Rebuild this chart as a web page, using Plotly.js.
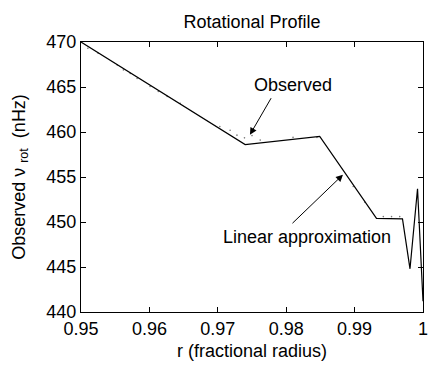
<!DOCTYPE html>
<html>
<head>
<meta charset="utf-8">
<script src="https://cdn.plot.ly/plotly-3.0.1.min.js"></script>
<style>
  html, body { margin: 0; padding: 0; background: #fff; }
  #chart { width: 436px; height: 365px; }
</style>
</head>
<body>
<div id="chart"></div>
<script>
// linear approximation of the rotation profile
const fitR = [0.95, 0.9740, 0.9849, 0.9932, 0.9970, 0.9981, 0.9992, 1.0];
const fitV = [470.0, 458.6, 459.5, 450.4, 450.35, 444.8, 453.7, 441.2];

// observed values (small dots along the line)
const obsR = [0.9510, 0.9525, 0.9553, 0.9562, 0.9572, 0.9582, 0.9601, 0.9613, 0.9626, 0.9645,
              0.9703, 0.9718, 0.9728, 0.9739, 0.9750, 0.9762, 0.9810, 0.9845,
              0.9898, 0.9915, 0.9942, 0.9954, 0.9966];
const obsV = [469.3, 468.75, 467.45, 466.9, 466.5, 465.95, 465.05, 464.5, 463.95, 463.2,
              460.6, 460.2, 459.65, 459.35, 459.6, 459.1, 459.4, 459.4,
              453.95, 452.2, 450.6, 450.6, 450.6];

const xTicks = [0.95, 0.96, 0.97, 0.98, 0.99, 1];
const xTickText = ['0.95', '0.96', '0.97', '0.98', '0.99', '1'];
const yTicks = [440, 445, 450, 455, 460, 465, 470];

const font = 'Liberation Sans, Arial, Helvetica, sans-serif';

const observed = {
    x: obsR,
    y: obsV,
    type: 'scatter',
    mode: 'markers',
    name: 'Observed',
    marker: {size: 1.6, color: '#777777'},
    hoverinfo: 'skip'
};

const linear = {
    x: fitR,
    y: fitV,
    type: 'scatter',
    mode: 'lines',
    name: 'Linear approximation',
    line: {color: '#000000', width: 1.2}
};

const axisCommon = {
    showline: true,
    linecolor: '#000',
    linewidth: 1,
    mirror: 'ticks',
    ticks: 'inside',
    ticklen: 5,
    tickcolor: '#000',
    tickwidth: 1,
    showgrid: false,
    zeroline: false,
    tickfont: {family: font, size: 18, color: '#000'}
};

const layout = {
    width: 436,
    height: 365,
    margin: {l: 81, r: 13, t: 42, b: 53},
    paper_bgcolor: '#fff',
    plot_bgcolor: '#fff',
    showlegend: false,
    title: {
        text: 'Rotational Profile',
        font: {family: font, size: 18, color: '#000'},
        x: 0.578,
        xanchor: 'center',
        y: 0.94,
        yanchor: 'middle'
    },
    xaxis: Object.assign({}, axisCommon, {
        range: [0.95, 1],
        tickvals: xTicks,
        ticktext: xTickText,
        title: {text: 'r (fractional radius)', font: {family: font, size: 18, color: '#000'}, standoff: 6}
    }),
    yaxis: Object.assign({}, axisCommon, {
        range: [440, 470],
        tickvals: yTicks,
        title: {text: 'Observed ν <sub>rot</sub>  (nHz)', font: {family: font, size: 18, color: '#000'}, standoff: 16}
    }),
    annotations: [
        {
            x: 0.9747, y: 459.7, xref: 'x', yref: 'y',
            ax: 22, ay: -38, text: '', showarrow: true,
            arrowhead: 2, arrowsize: 1.4, arrowwidth: 1, arrowcolor: '#000'
        },
        {
            x: 0.9810, y: 465.26, xref: 'x', yref: 'y',
            text: 'Observed', showarrow: false,
            font: {family: font, size: 18, color: '#000'}
        },
        {
            x: 0.9883, y: 455.26, xref: 'x', yref: 'y',
            ax: -52, ay: 50, text: '', showarrow: true,
            arrowhead: 2, arrowsize: 1.4, arrowwidth: 1, arrowcolor: '#000'
        },
        {
            x: 0.9830, y: 448.31, xref: 'x', yref: 'y',
            text: 'Linear approximation', showarrow: false,
            font: {family: font, size: 18, color: '#000'}
        }
    ]
};

Plotly.newPlot('chart', [observed, linear], layout, {displayModeBar: false, staticPlot: true});
</script>
</body>
</html>
